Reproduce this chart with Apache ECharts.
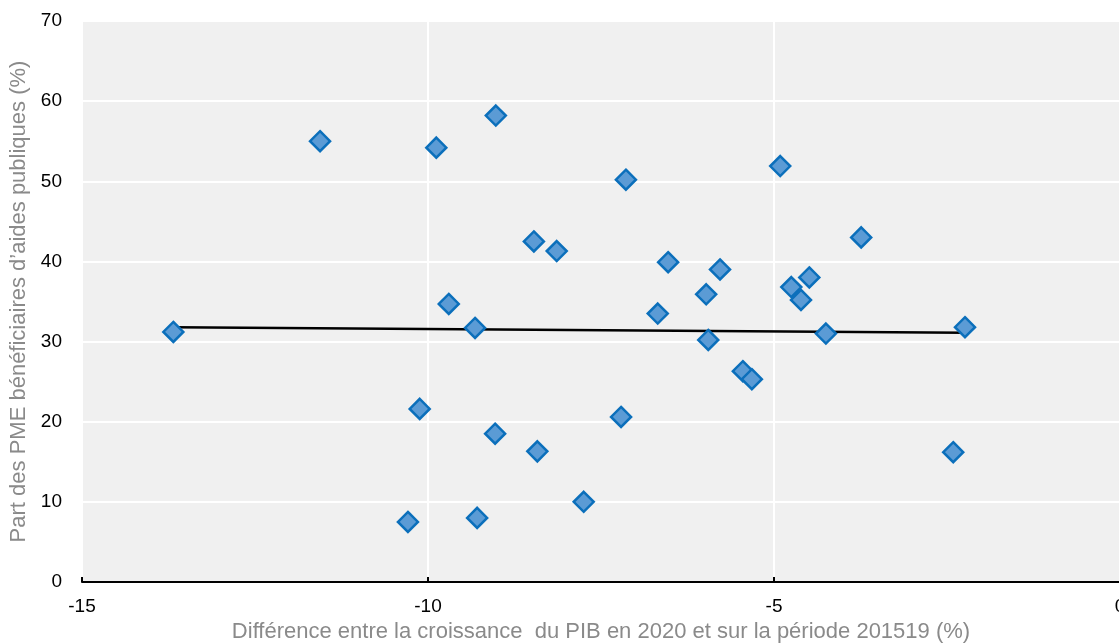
<!DOCTYPE html>
<html>
<head>
<meta charset="utf-8">
<script src="https://cdn.jsdelivr.net/npm/echarts@6/dist/echarts.min.js"></script>
<style>
  html, body { margin: 0; padding: 0; background: #ffffff; }
  #chart { width: 1119px; height: 644px; }
</style>
</head>
<body>
<div id="chart"></div>
<script>
// GDP growth gap 2020 vs 2015-19 (%) for each country
const gdpGap = [
  -13.68, -11.56, -9.88, -9.02, -9.70, -9.32, -10.12, -10.29, -9.29, -9.03,
  -8.42, -8.47, -8.14, -7.75, -7.21, -7.14, -6.68, -6.53, -5.98, -5.95,
  -5.78, -5.45, -5.32, -4.91, -4.75, -4.61, -4.49, -4.25, -3.74, -2.41, -2.24
];
// Share of SMEs receiving public support (%)
const smeShare = [
  31.2, 55.0, 54.2, 58.2, 34.7, 31.7, 21.6, 7.5, 8.0, 18.5,
  16.3, 42.5, 41.3, 10.0, 20.6, 50.2, 33.5, 39.9, 35.9, 30.2,
  39.0, 26.3, 25.3, 51.9, 36.8, 35.2, 38.0, 31.0, 43.0, 16.2, 31.8
];
// Linear trend end points
const trendX = [-13.68, -2.24];
const trendY = [31.8, 31.1];

const xTicks = [-15, -10, -5, 0];
const yTicks = [0, 10, 20, 30, 40, 50, 60, 70];

const xTitle = 'Différence entre la croissance  du PIB en 2020 et sur la période 201519 (%)';
const yTitle = 'Part des PME bénéficiaires d’aides publiques (%)';

const points = gdpGap.map((x, i) => [x, smeShare[i]]);
const trend = trendX.map((x, i) => [x, trendY[i]]);

const font = '"Liberation Sans", Arial, sans-serif';

const chart = echarts.init(document.getElementById('chart'), null, { renderer: 'canvas' });
chart.setOption({
  animation: false,
  grid: {
    left: 82, right: -1, top: 21, bottom: 62,
    outerBoundsMode: 'none',
    containLabel: false,
    show: true, backgroundColor: '#f0f0f0', borderWidth: 0
  },
  xAxis: {
    type: 'value',
    min: xTicks[0], max: xTicks[xTicks.length - 1], interval: 5,
    name: xTitle,
    nameLocation: 'middle',
    nameGap: 37,
    nameTextStyle: { color: '#8a8a8a', fontSize: 22, fontFamily: font },
    axisLine: { show: true, onZero: false, lineStyle: { color: '#000000', width: 2 } },
    axisTick: { show: true, inside: true, length: 5, lineStyle: { color: '#000000', width: 2 } },
    axisLabel: { color: '#000000', fontSize: 19, fontFamily: font, margin: 15 },
    splitLine: { show: true, lineStyle: { color: '#ffffff', width: 2 } }
  },
  yAxis: {
    type: 'value',
    min: yTicks[0], max: yTicks[yTicks.length - 1], interval: 10,
    name: yTitle,
    nameLocation: 'middle',
    nameGap: 47,
    nameTextStyle: { color: '#8a8a8a', fontSize: 22, fontFamily: font },
    axisLine: { show: false },
    axisTick: { show: false },
    axisLabel: { color: '#000000', fontSize: 19, fontFamily: font, margin: 20 },
    splitLine: { show: true, lineStyle: { color: '#ffffff', width: 2 } }
  },
  series: [
    {
      type: 'line',
      data: trend,
      symbol: 'none',
      lineStyle: { color: '#000000', width: 2.5 },
      z: 2
    },
    {
      type: 'scatter',
      data: points,
      symbol: 'diamond',
      symbolSize: 20,
      itemStyle: { color: '#5b9bd5', borderColor: '#0b6fbb', borderWidth: 2.5, opacity: 1 },
      z: 3
    }
  ]
});
</script>
</body>
</html>
